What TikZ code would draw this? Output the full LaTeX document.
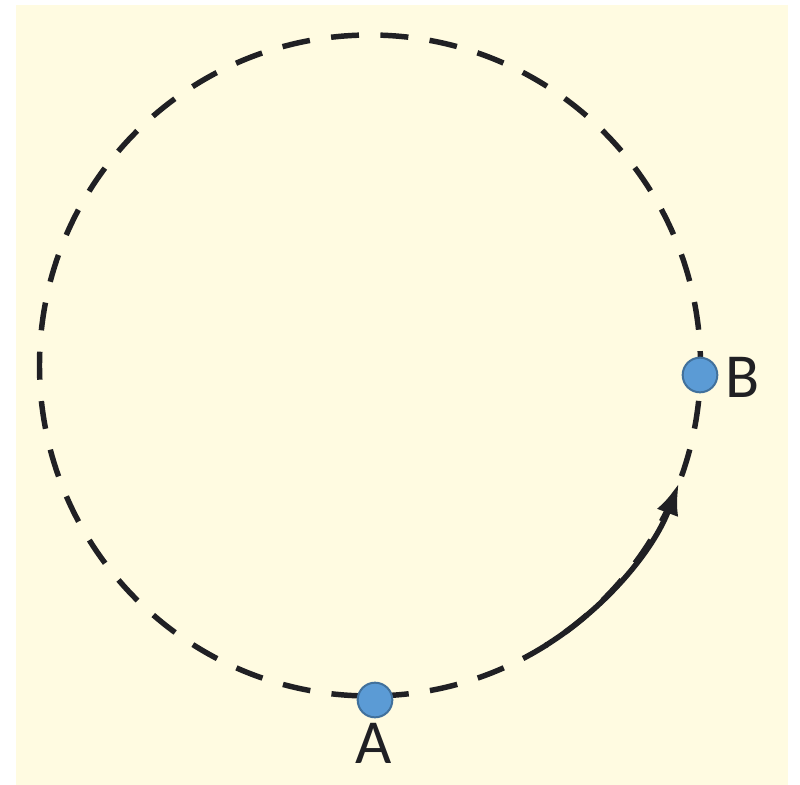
\documentclass[tikz,border=0pt]{standalone}
\usepackage{fontspec}
\setmainfont{Carlito}
\usetikzlibrary{arrows.meta}
\definecolor{cream}{HTML}{FFFBE1}
\definecolor{dotfill}{HTML}{5B9BD5}
\definecolor{dotline}{HTML}{41719C}
\definecolor{ink}{HTML}{202024}
\tikzset{
  orbit/.style={draw=ink, line width=4.1pt, dash pattern=on 21pt off 16.08pt, dash phase=10.5pt},
  motion/.style={draw=ink, line width=4.1pt, -{Latex[length=24pt,width=17pt]}},
  dot/.style={circle, fill=dotfill, draw=dotline, line width=1.5pt, minimum size=26pt, inner sep=0pt},
  lbl/.style={text=ink, font=\fontsize{47}{50}\selectfont, inner sep=0pt}
}
\begin{document}
\begin{tikzpicture}[x=0.75pt,y=-0.75pt]
\useasboundingbox (0,0) rectangle (800,785);
\fill[cream] (16,5) rectangle (788,785);
\coordinate (O) at (370,365.5);
\draw[orbit] (O) circle (330.5);
\draw[motion] ([shift={(57.9:330.5)}]O) arc (57.9:20.8:330.5) coordinate (tip);
\node[dot] (A) at (375,700) {};
\node[dot] (B) at (700,375) {};
\node[lbl, anchor=north] (LA) at (374,723) {A};
\node[lbl, anchor=west] (LB) at (725,377) {B};
\end{tikzpicture}
\end{document}
